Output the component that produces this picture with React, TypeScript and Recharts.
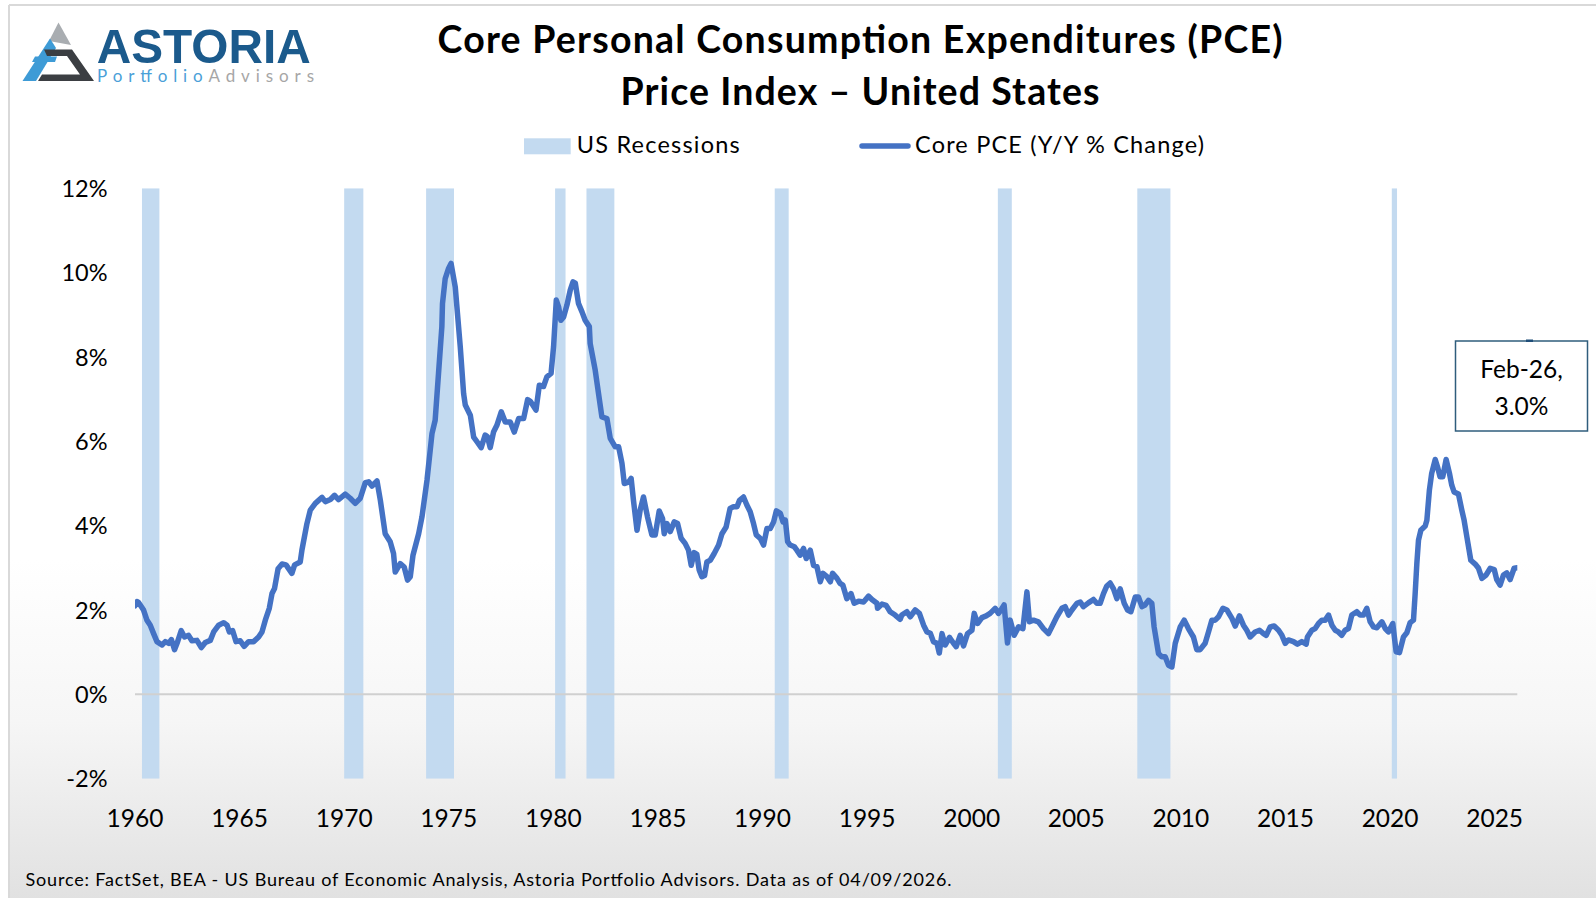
import React from 'react';
import { ComposedChart, Line, XAxis, YAxis, ReferenceArea, ReferenceLine } from 'recharts';

// Core PCE Y/Y % change: [decimal year, value %]
const corePce: [number, number][] = [
  [1960.00, 2.10], [1960.10, 2.20], [1960.17, 2.18], [1960.41, 2.00], [1960.57, 1.76], [1960.73, 1.64],
  [1960.89, 1.44], [1961.05, 1.25], [1961.29, 1.17], [1961.45, 1.25], [1961.61, 1.21], [1961.74, 1.30],
  [1961.89, 1.06], [1962.01, 1.21], [1962.21, 1.51], [1962.37, 1.36], [1962.56, 1.40], [1962.72, 1.27],
  [1962.96, 1.28], [1963.17, 1.11], [1963.36, 1.23], [1963.60, 1.28], [1963.76, 1.48], [1964.00, 1.64],
  [1964.24, 1.70], [1964.40, 1.64], [1964.51, 1.48], [1964.67, 1.51], [1964.83, 1.25], [1965.03, 1.27],
  [1965.22, 1.14], [1965.43, 1.25], [1965.67, 1.25], [1965.91, 1.36], [1966.07, 1.48], [1966.23, 1.76],
  [1966.42, 2.04], [1966.55, 2.39], [1966.67, 2.51], [1966.84, 2.98], [1967.03, 3.09], [1967.22, 3.07],
  [1967.50, 2.87], [1967.63, 3.07], [1967.90, 3.14], [1967.98, 3.42], [1968.22, 4.05], [1968.38, 4.37],
  [1968.62, 4.53], [1968.94, 4.67], [1969.10, 4.57], [1969.34, 4.62], [1969.54, 4.72], [1969.73, 4.62],
  [1970.05, 4.75], [1970.29, 4.65], [1970.53, 4.53], [1970.77, 4.65], [1971.01, 5.02], [1971.17, 5.04],
  [1971.33, 4.94], [1971.57, 5.06], [1971.73, 4.60], [1971.96, 3.81], [1972.20, 3.62], [1972.36, 3.34],
  [1972.44, 2.90], [1972.68, 3.10], [1972.87, 3.02], [1973.03, 2.71], [1973.16, 2.79], [1973.29, 3.30],
  [1973.56, 3.81], [1973.72, 4.21], [1973.96, 5.08], [1974.20, 6.19], [1974.35, 6.50], [1974.51, 7.61],
  [1974.67, 8.72], [1974.70, 9.27], [1974.83, 9.86], [1974.99, 10.10], [1975.11, 10.22], [1975.31, 9.66],
  [1975.55, 8.24], [1975.71, 7.13], [1975.79, 6.86], [1976.03, 6.62], [1976.19, 6.10], [1976.35, 5.99],
  [1976.55, 5.85], [1976.74, 6.15], [1976.85, 6.11], [1976.98, 5.85], [1977.14, 6.22], [1977.30, 6.38],
  [1977.51, 6.70], [1977.70, 6.46], [1977.94, 6.46], [1978.13, 6.22], [1978.34, 6.54], [1978.58, 6.54],
  [1978.77, 6.99], [1978.90, 6.95], [1979.17, 6.74], [1979.33, 7.33], [1979.53, 7.30], [1979.69, 7.53],
  [1979.89, 7.61], [1980.01, 8.24], [1980.14, 9.35], [1980.25, 9.19], [1980.36, 8.87], [1980.49, 8.95],
  [1980.65, 9.23], [1980.81, 9.59], [1980.94, 9.78], [1981.05, 9.75], [1981.20, 9.27], [1981.37, 9.07],
  [1981.52, 8.87], [1981.72, 8.72], [1981.76, 8.32], [1982.00, 7.69], [1982.16, 7.13], [1982.32, 6.58],
  [1982.56, 6.54], [1982.72, 6.07], [1982.96, 5.87], [1983.12, 5.87], [1983.28, 5.48], [1983.39, 5.00],
  [1983.59, 5.03], [1983.72, 5.12], [1983.83, 4.60], [1984.00, 3.89], [1984.15, 4.37], [1984.31, 4.68],
  [1984.50, 4.21], [1984.71, 3.78], [1984.87, 3.78], [1985.06, 4.35], [1985.22, 4.17], [1985.30, 3.81],
  [1985.43, 4.05], [1985.59, 3.86], [1985.78, 4.09], [1985.94, 4.05], [1986.11, 3.70], [1986.30, 3.58],
  [1986.46, 3.42], [1986.59, 3.06], [1986.73, 3.36], [1986.86, 3.32], [1986.97, 2.95], [1987.10, 2.79],
  [1987.23, 2.82], [1987.34, 3.14], [1987.50, 3.18], [1987.69, 3.34], [1987.90, 3.54], [1988.06, 3.81],
  [1988.26, 3.97], [1988.45, 4.41], [1988.61, 4.45], [1988.78, 4.45], [1988.90, 4.60], [1989.09, 4.68],
  [1989.25, 4.49], [1989.41, 4.33], [1989.57, 4.05], [1989.70, 3.78], [1989.89, 3.70], [1990.05, 3.54],
  [1990.21, 3.93], [1990.37, 3.93], [1990.53, 4.09], [1990.66, 4.35], [1990.85, 4.29], [1990.98, 4.09],
  [1991.09, 4.13], [1991.20, 3.62], [1991.32, 3.54], [1991.52, 3.50], [1991.64, 3.42], [1991.80, 3.30],
  [1991.96, 3.46], [1992.09, 3.22], [1992.28, 3.42], [1992.44, 3.06], [1992.60, 3.03], [1992.76, 2.67],
  [1992.89, 2.87], [1993.08, 2.79], [1993.24, 2.67], [1993.35, 2.87], [1993.56, 2.75], [1993.71, 2.63],
  [1993.84, 2.59], [1994.03, 2.27], [1994.23, 2.39], [1994.38, 2.16], [1994.59, 2.21], [1994.83, 2.19],
  [1995.07, 2.33], [1995.23, 2.25], [1995.47, 2.16], [1995.50, 2.04], [1995.71, 2.14], [1995.91, 2.11],
  [1996.10, 1.96], [1996.34, 1.88], [1996.58, 1.78], [1996.66, 1.88], [1996.90, 1.96], [1997.06, 1.84],
  [1997.30, 2.00], [1997.50, 1.92], [1997.70, 1.64], [1997.86, 1.48], [1998.02, 1.45], [1998.17, 1.25],
  [1998.34, 1.21], [1998.45, 0.98], [1998.58, 1.44], [1998.73, 1.17], [1998.94, 1.35], [1999.13, 1.21],
  [1999.26, 1.13], [1999.45, 1.40], [1999.61, 1.15], [1999.80, 1.44], [2000.01, 1.52], [2000.12, 1.92],
  [2000.28, 1.68], [2000.49, 1.82], [2000.69, 1.86], [2000.88, 1.92], [2001.12, 2.04], [2001.28, 1.92],
  [2001.40, 2.00], [2001.55, 2.12], [2001.71, 1.22], [2001.84, 1.76], [2002.03, 1.40], [2002.24, 1.60],
  [2002.45, 1.56], [2002.64, 2.43], [2002.76, 1.72], [2002.95, 1.76], [2003.19, 1.72], [2003.43, 1.56],
  [2003.67, 1.44], [2003.91, 1.68], [2004.07, 1.84], [2004.31, 2.04], [2004.47, 2.08], [2004.63, 1.88],
  [2004.79, 2.00], [2005.03, 2.16], [2005.19, 2.19], [2005.34, 2.08], [2005.58, 2.17], [2005.82, 2.25],
  [2005.98, 2.16], [2006.14, 2.16], [2006.30, 2.39], [2006.46, 2.57], [2006.62, 2.64], [2006.78, 2.50],
  [2006.94, 2.27], [2007.10, 2.50], [2007.29, 2.16], [2007.45, 2.00], [2007.61, 1.96], [2007.82, 2.31],
  [2007.97, 2.31], [2008.14, 2.08], [2008.29, 2.12], [2008.45, 2.23], [2008.61, 2.16], [2008.72, 1.60],
  [2008.93, 0.97], [2009.09, 0.89], [2009.25, 0.89], [2009.41, 0.69], [2009.57, 0.65], [2009.73, 1.21],
  [2009.97, 1.60], [2010.16, 1.76], [2010.36, 1.56], [2010.60, 1.36], [2010.76, 1.06], [2010.92, 1.06],
  [2011.16, 1.21], [2011.32, 1.48], [2011.48, 1.76], [2011.64, 1.76], [2011.80, 1.84], [2012.01, 2.04],
  [2012.20, 2.00], [2012.44, 1.80], [2012.60, 1.62], [2012.80, 1.86], [2012.99, 1.64], [2013.15, 1.52],
  [2013.31, 1.36], [2013.55, 1.48], [2013.76, 1.52], [2013.95, 1.44], [2014.08, 1.40], [2014.27, 1.60],
  [2014.46, 1.62], [2014.67, 1.52], [2014.83, 1.40], [2014.99, 1.21], [2015.14, 1.29], [2015.38, 1.25],
  [2015.57, 1.19], [2015.78, 1.25], [2015.99, 1.19], [2016.05, 1.36], [2016.26, 1.52], [2016.42, 1.56],
  [2016.58, 1.68], [2016.74, 1.76], [2016.90, 1.76], [2017.06, 1.88], [2017.22, 1.64], [2017.38, 1.52],
  [2017.53, 1.48], [2017.69, 1.40], [2017.85, 1.52], [2018.01, 1.56], [2018.17, 1.88], [2018.41, 1.96],
  [2018.57, 1.88], [2018.73, 1.88], [2018.89, 2.04], [2019.05, 1.72], [2019.21, 1.60], [2019.37, 1.58],
  [2019.61, 1.72], [2019.77, 1.56], [2019.92, 1.48], [2020.13, 1.68], [2020.29, 1.01], [2020.45, 0.99],
  [2020.64, 1.36], [2020.80, 1.46], [2020.96, 1.70], [2021.12, 1.76], [2021.20, 2.39], [2021.28, 3.10],
  [2021.36, 3.66], [2021.47, 3.89], [2021.68, 3.99], [2021.76, 4.13], [2021.88, 4.84], [2021.99, 5.24],
  [2022.16, 5.57], [2022.27, 5.39], [2022.39, 5.16], [2022.52, 5.16], [2022.68, 5.57], [2022.84, 5.24],
  [2022.95, 4.96], [2023.06, 4.80], [2023.27, 4.75], [2023.43, 4.37], [2023.54, 4.13], [2023.67, 3.74],
  [2023.86, 3.18], [2024.07, 3.09], [2024.23, 2.99], [2024.39, 2.75], [2024.59, 2.83], [2024.79, 2.99],
  [2024.98, 2.96], [2025.10, 2.72], [2025.26, 2.59], [2025.42, 2.83], [2025.58, 2.88], [2025.74, 2.72],
  [2025.93, 2.99], [2026.08, 3.00],
];

// US recessions (first and last month, inclusive)
const recessionStarts = ['1960-05', '1970-01', '1973-12', '1980-02', '1981-08', '1990-08', '2001-04', '2007-12', '2020-02'];
const recessionEnds = ['1961-02', '1970-11', '1975-03', '1980-07', '1982-11', '1991-03', '2001-11', '2009-06', '2020-04'];

const xTicks = [1960, 1965, 1970, 1975, 1980, 1985, 1990, 1995, 2000, 2005, 2010, 2015, 2020, 2025];
const yTicks = [-2, 0, 2, 4, 6, 8, 10, 12];

const titleLines = ['Core Personal Consumption Expenditures (PCE)', 'Price Index \u2013 United States'];
const legendLabels = ['US Recessions', 'Core PCE (Y/Y % Change)'];
const calloutLines = ['Feb-26,', '3.0%'];
const sourceText = 'Source: FactSet, BEA - US Bureau of Economic Analysis, Astoria Portfolio Advisors. Data as of 04/09/2026.';

const monthStart = (s: string) => { const [y, m] = s.split('-').map(Number); return y + (m - 1) / 12; };
const monthEnd = (s: string) => { const [y, m] = s.split('-').map(Number); return y + m / 12; };

const FONT = 'Lato, "Open Sans", sans-serif';
const LINE_COLOR = '#4472C4';
const REC_COLOR = '#C3DAF0';

const XTick = (props: any) => {
  const { x, y, payload } = props;
  return (
    <text x={x} y={y + 48} textAnchor="middle" fontFamily={FONT} fontSize={24.5} fill="#000">
      {payload.value}
    </text>
  );
};

const YTick = (props: any) => {
  const { x, y, payload } = props;
  return (
    <text x={x - 27.5} y={y + 8.6} textAnchor="end" fontFamily={FONT} fontSize={23.5} fill="#000">
      {payload.value}%
    </text>
  );
};

export default function App() {
  const data = corePce.map(([t, v]) => ({ t, v }));
  const recessions = recessionStarts.map((s, i) => ({ x1: monthStart(s), x2: monthEnd(recessionEnds[i]) }));

  return (
    <div style={{ position: 'absolute', left: 0, top: 0, width: 1596, height: 898, background: '#fff', overflow: 'hidden' }}>
      <svg width={1596} height={898} style={{ position: 'absolute', left: 0, top: 0 }}>
        <defs>
          <linearGradient id="bg" x1="0" y1="0" x2="0" y2="1">
            <stop offset="0" stopColor="#ffffff" />
            <stop offset="0.62" stopColor="#ffffff" />
            <stop offset="0.8" stopColor="#f6f6f6" />
            <stop offset="1" stopColor="#e1e1e1" />
          </linearGradient>
        </defs>
        <rect x={9} y={5} width={1590} height={895} fill="url(#bg)" />
        <line x1={9} y1={5} x2={1596} y2={5} stroke="#d9d9d9" strokeWidth={2} />
        <line x1={9} y1={5} x2={9} y2={898} stroke="#d9d9d9" strokeWidth={2} />
      </svg>

      <div style={{ position: 'absolute', left: 0, top: 0 }}>
        <ComposedChart
          width={1596}
          height={898}
          data={data}
          margin={{ top: 188.3, right: 78.7, bottom: 89.3, left: 75 }}
        >
          <XAxis
            dataKey="t"
            type="number"
            domain={[1960, 2026.083]}
            ticks={xTicks}
            interval={0}
            axisLine={false}
            tickLine={false}
            tickSize={0}
            tickMargin={0}
            height={30}
            tick={<XTick />}
            allowDataOverflow
          />
          <YAxis
            type="number"
            domain={[-2, 12]}
            ticks={yTicks}
            interval={0}
            axisLine={false}
            tickLine={false}
            tickSize={0}
            tickMargin={0}
            width={60}
            tick={<YTick />}
            allowDataOverflow
          />
          <ReferenceLine y={0} stroke="#d0d0d0" strokeWidth={2} />
          {recessions.map((r, i) => (
            <ReferenceArea
              key={i}
              x1={r.x1}
              x2={r.x2}
              y1={-2}
              y2={12}
              fill={REC_COLOR}
              fillOpacity={1}
              stroke="none"
              ifOverflow="hidden"
            />
          ))}
          <Line
            dataKey="v"
            type="linear"
            stroke={LINE_COLOR}
            strokeWidth={5.5}
            strokeLinejoin="round"
            strokeLinecap="round"
            dot={false}
            activeDot={false}
            isAnimationActive={false}
          />
        </ComposedChart>
      </div>

      <svg width={1596} height={898} style={{ position: 'absolute', left: 0, top: 0, pointerEvents: 'none' }}>
        {/* Logo */}
        <polygon points="58.5,22.5 71,45 49,41" fill="#a9adb1" />
        <polygon points="22.5,81 36,81 56,48 50,38.5" fill="#3e9bd6" />
        <polygon points="35,56.5 57,56.5 55,62 32,62" fill="#3e9bd6" />
        <polygon points="44,49.5 72,49.5 94,81 38,81 42,74.5 80,74.5 67,56 47,56" fill="#3b3e42" />
        <text x={96.7} y={62.5} fontFamily='"Liberation Sans", Arial, sans-serif' fontWeight={700} fontSize={49} fill="#1b5a8c" textLength={214} lengthAdjust="spacingAndGlyphs">ASTORIA</text>
        <text x={97} y={82} fontFamily={FONT} fontWeight={400} fontSize={17} textLength={217} lengthAdjust="spacing">
          <tspan fill="#4aa0d8">Portfolio</tspan>
          <tspan fill="#a6a6a6">Advisors</tspan>
        </text>

        {/* Title */}
        <text x={860} y={52.7} textAnchor="middle" fontFamily={FONT} fontWeight={700} fontSize={37.5} fill="#000" textLength={845} lengthAdjust="spacing">{titleLines[0]}</text>
        <text x={860} y={104.7} textAnchor="middle" fontFamily={FONT} fontWeight={700} fontSize={37.5} fill="#000" textLength={479} lengthAdjust="spacing">{titleLines[1]}</text>

        {/* Legend */}
        <rect x={524} y={138.3} width={46.7} height={16} fill={REC_COLOR} />
        <text x={576.7} y={153} fontFamily={FONT} fontSize={23.5} fill="#000" textLength={163} lengthAdjust="spacing">{legendLabels[0]}</text>
        <line x1={862} y1={146} x2={908} y2={146} stroke={LINE_COLOR} strokeWidth={5.5} strokeLinecap="round" />
        <text x={915} y={153} fontFamily={FONT} fontSize={23.5} fill="#000" textLength={289} lengthAdjust="spacing">{legendLabels[1]}</text>

        {/* Callout */}
        <rect x={1455.5} y={341} width={132} height={90} fill="#ffffff" stroke="#2f5d7c" strokeWidth={1.5} />
        <rect x={1526} y={339.5} width={7} height={2.5} fill="#1f4e79" />
        <text x={1521.5} y={378.3} textAnchor="middle" fontFamily={FONT} fontSize={24.5} fill="#000">{calloutLines[0]}</text>
        <text x={1521.5} y={415} textAnchor="middle" fontFamily={FONT} fontSize={24.5} fill="#000">{calloutLines[1]}</text>

        {/* Source */}
        <text x={25.5} y={886} fontFamily={FONT} fontSize={18} fill="#000" textLength={926} lengthAdjust="spacing">{sourceText}</text>
      </svg>
    </div>
  );
}
